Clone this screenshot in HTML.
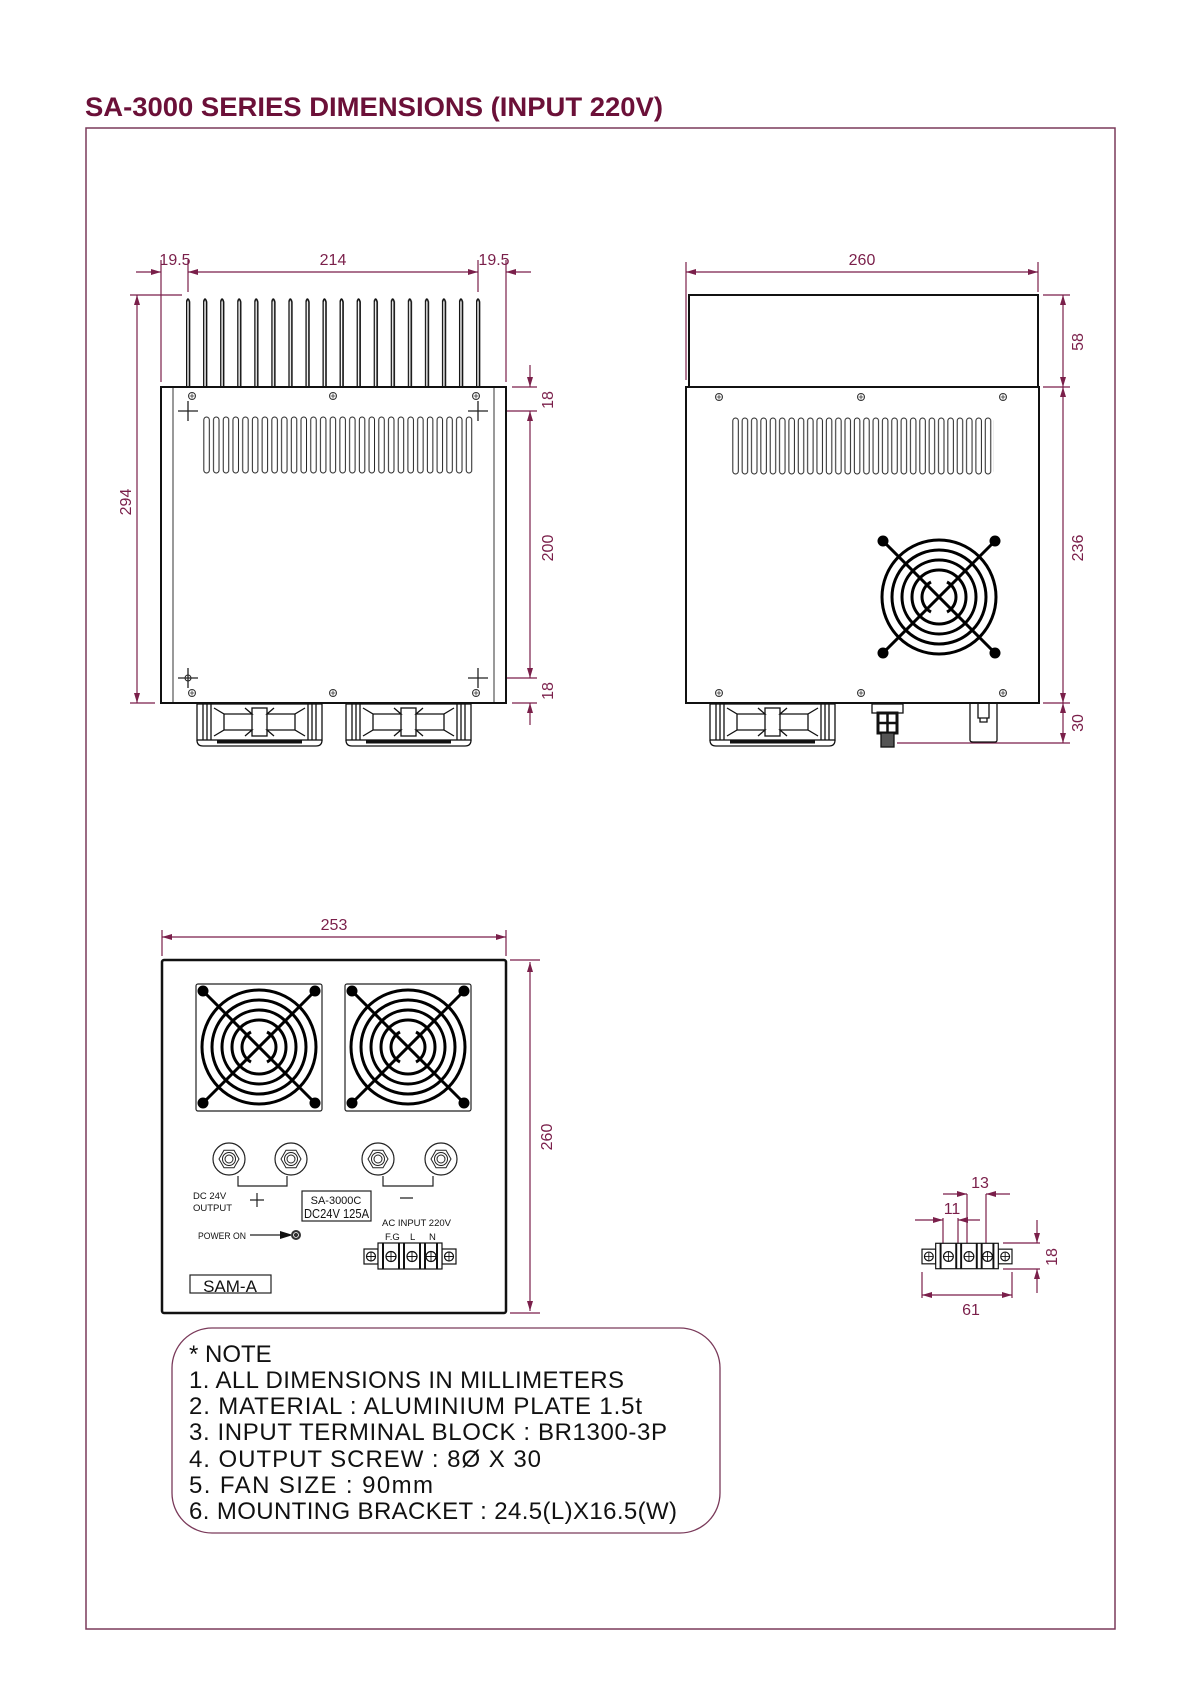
<!DOCTYPE html>
<html><head><meta charset="utf-8"><style>
html,body{margin:0;padding:0;background:#fff;}
svg{display:block;}
text{font-family:"Liberation Sans",sans-serif;}
</style></head><body>
<svg width="1200" height="1698" viewBox="0 0 1200 1698" xmlns="http://www.w3.org/2000/svg">
<defs>
<marker id="ar" viewBox="0 0 10 6" refX="10" refY="3" markerWidth="10" markerHeight="6" orient="auto-start-reverse" markerUnits="userSpaceOnUse">
<path d="M0,0 L10,3 L0,6 z" fill="#7a1f4a"/></marker>
<pattern id="vent" x="202" y="0" width="9.72" height="2000" patternUnits="userSpaceOnUse">
<rect x="1.8" y="417" width="5.5" height="56" rx="2.75" fill="none" stroke="#222" stroke-width="1"/></pattern>
<pattern id="vent2" x="731" y="0" width="9.35" height="2000" patternUnits="userSpaceOnUse">
<rect x="1.8" y="418" width="5.5" height="56" rx="2.75" fill="none" stroke="#222" stroke-width="1"/></pattern>
<pattern id="fin" x="186" y="0" width="17.06" height="2000" patternUnits="userSpaceOnUse">
<path d="M0.5,388 L0.5,302 Q2,296 3.5,302 L3.5,388" fill="#fff" stroke="#111" stroke-width="1.6"/></pattern>
<symbol id="grill" viewBox="-63 -63 126 126" overflow="visible">
<g fill="none" stroke="#000" stroke-width="3">
<circle r="57"/><circle r="47"/><circle r="37"/><circle r="27"/>
<path d="M-8,-15 A17,17 0 0 0 -8,15 M8,-15 A17,17 0 0 1 8,15"/>
<line x1="-55" y1="-55" x2="55" y2="55"/><line x1="55" y1="-55" x2="-55" y2="55"/>
</g>
<g fill="#000"><circle cx="-56" cy="-56" r="5.5"/><circle cx="56" cy="-56" r="5.5"/><circle cx="-56" cy="56" r="5.5"/><circle cx="56" cy="56" r="5.5"/></g>
</symbol>
<symbol id="screw" viewBox="-5 -5 10 10" overflow="visible">
<circle r="3.5" fill="#fff" stroke="#333" stroke-width="1"/><path d="M-2.5,0 H2.5 M0,-2.5 V2.5" stroke="#333" stroke-width="0.8"/>
</symbol>
<symbol id="bfan" viewBox="0 0 126 44" overflow="visible">
<g fill="none" stroke="#111" stroke-width="1.3">
<rect x="0" y="0" width="125" height="36"/>
<path d="M6,0 V36 M10,0 V36 M14,0 V36 M111,0 V36 M115,0 V36 M119,0 V36"/>
<path d="M17,4 L27,10 V26 L17,32 M108,4 L98,10 V26 L108,32"/>
<path d="M27,10 H55 L48,4 M27,26 H55 L48,32 M98,10 H70 L77,4 M98,26 H70 L77,32"/>
<rect x="55" y="4" width="15" height="28"/>
<path d="M0,36 Q0,42 6,42 H119 Q125,42 125,36"/>
<path d="M20,38 H105" stroke-width="3"/>
</g>
</symbol>
<symbol id="tb" viewBox="0 0 92 26" overflow="visible">
<g stroke="#111" fill="#fff" stroke-width="1.2">
<rect x="0" y="6" width="14" height="15"/><rect x="78" y="6" width="14" height="15"/>
<rect x="14" y="0" width="64" height="26"/>
<path d="M19,0 V26 M35,0 V26 M40,0 V26 M56,0 V26 M61,0 V26 M73,0 V26" stroke-width="2"/>
<circle cx="7" cy="13.5" r="4.5"/><circle cx="85" cy="13.5" r="4.5"/>
<circle cx="27" cy="13.5" r="5"/><circle cx="48" cy="13.5" r="5"/><circle cx="67" cy="13.5" r="5"/>
<path d="M3,13.5 H11 M7,9.5 V17.5 M81,13.5 H89 M85,9.5 V17.5 M22,13.5 H32 M27,8.5 V18.5 M43,13.5 H53 M48,8.5 V18.5 M62,13.5 H72 M67,8.5 V18.5" stroke-width="0.9"/>
</g>
</symbol>
<symbol id="term" viewBox="-17 -17 34 34" overflow="visible">
<circle r="16" fill="#fff" stroke="#222" stroke-width="1.2"/>
<polygon points="10,0 5,8.7 -5,8.7 -10,0 -5,-8.7 5,-8.7" fill="none" stroke="#222" stroke-width="1"/>
<circle r="6.5" fill="none" stroke="#222" stroke-width="1"/><circle r="4" fill="none" stroke="#222" stroke-width="1"/>
</symbol>
</defs>

<text x="85" y="116" font-size="27" fill="#6b1038" font-weight="bold" textLength="578" lengthAdjust="spacingAndGlyphs">SA-3000  SERIES  DIMENSIONS  (INPUT  220V)</text>
<rect x="86" y="128" width="1029" height="1501" fill="none" stroke="#7a3a5a" stroke-width="1.5"/>

<g stroke="#7a1f4a" stroke-width="1.2" fill="none">
<line x1="161" y1="260" x2="161" y2="382"/><line x1="188" y1="260" x2="188" y2="292"/>
<line x1="478" y1="260" x2="478" y2="292"/><line x1="506" y1="260" x2="506" y2="382"/>
<line x1="136" y1="272" x2="161" y2="272" marker-end="url(#ar)"/>
<line x1="188" y1="272" x2="478" y2="272" marker-start="url(#ar)" marker-end="url(#ar)"/>
<line x1="531" y1="272" x2="506" y2="272" marker-end="url(#ar)"/>
<line x1="130" y1="295" x2="182" y2="295"/><line x1="130" y1="703" x2="155" y2="703"/>
<line x1="137" y1="295" x2="137" y2="703" marker-start="url(#ar)" marker-end="url(#ar)"/>
<line x1="512" y1="387" x2="537" y2="387"/><line x1="496" y1="411" x2="537" y2="411"/>
<line x1="496" y1="678" x2="537" y2="678"/><line x1="512" y1="703" x2="537" y2="703"/>
<line x1="530" y1="365" x2="530" y2="387" marker-end="url(#ar)"/>
<line x1="530" y1="411" x2="530" y2="678" marker-start="url(#ar)" marker-end="url(#ar)"/>
<line x1="530" y1="725" x2="530" y2="703" marker-end="url(#ar)"/>
<path d="M325,612 H436 L476,674"/>
<line x1="686" y1="262" x2="686" y2="380"/><line x1="1038" y1="262" x2="1038" y2="292"/>
<line x1="686" y1="272" x2="1038" y2="272" marker-start="url(#ar)" marker-end="url(#ar)"/>
<line x1="1043" y1="295" x2="1070" y2="295"/><line x1="1043" y1="387" x2="1070" y2="387"/>
<line x1="1043" y1="703" x2="1070" y2="703"/><line x1="897" y1="743" x2="1070" y2="743"/>
<line x1="1063" y1="295" x2="1063" y2="387" marker-start="url(#ar)" marker-end="url(#ar)"/>
<line x1="1063" y1="387" x2="1063" y2="703" marker-start="url(#ar)" marker-end="url(#ar)"/>
<line x1="1063" y1="703" x2="1063" y2="743" marker-start="url(#ar)" marker-end="url(#ar)"/>
<line x1="162" y1="930" x2="162" y2="956"/><line x1="506" y1="930" x2="506" y2="956"/>
<line x1="162" y1="937" x2="506" y2="937" marker-start="url(#ar)" marker-end="url(#ar)"/>
<line x1="510" y1="960" x2="540" y2="960"/><line x1="510" y1="1313" x2="540" y2="1313"/>
<line x1="530" y1="962" x2="530" y2="1311" marker-start="url(#ar)" marker-end="url(#ar)"/>
<line x1="943" y1="1218" x2="943" y2="1248"/><line x1="958" y1="1218" x2="958" y2="1248"/>
<line x1="967" y1="1194" x2="967" y2="1250"/><line x1="986" y1="1194" x2="986" y2="1250"/>
<line x1="915" y1="1220" x2="943" y2="1220" marker-end="url(#ar)"/>
<line x1="980" y1="1220" x2="958" y2="1220" marker-end="url(#ar)"/>
<line x1="943" y1="1194" x2="967" y2="1194" marker-end="url(#ar)"/>
<line x1="1010" y1="1194" x2="986" y2="1194" marker-end="url(#ar)"/>
<line x1="1003" y1="1243" x2="1040" y2="1243"/><line x1="1003" y1="1269" x2="1040" y2="1269"/>
<line x1="1037" y1="1220" x2="1037" y2="1243" marker-end="url(#ar)"/>
<line x1="1037" y1="1293" x2="1037" y2="1269" marker-end="url(#ar)"/>
<line x1="922" y1="1272" x2="922" y2="1298"/><line x1="1012" y1="1272" x2="1012" y2="1298"/>
<line x1="922" y1="1295" x2="1012" y2="1295" marker-start="url(#ar)" marker-end="url(#ar)"/>
</g>
<g fill="#7a1f4a" font-size="16">
<text x="175" y="265" text-anchor="middle">19.5</text>
<text x="333" y="265" text-anchor="middle">214</text>
<text x="494" y="265" text-anchor="middle">19.5</text>
<text transform="translate(131,502) rotate(-90)" text-anchor="middle">294</text>
<text transform="translate(553,400) rotate(-90)" text-anchor="middle">18</text>
<text transform="translate(553,548) rotate(-90)" text-anchor="middle">200</text>
<text transform="translate(553,691) rotate(-90)" text-anchor="middle">18</text>
<text x="375" y="595" text-anchor="middle">Mounting Hole</text>
<text x="377" y="617" text-anchor="middle">(8-M4 Taps)</text>
<text x="862" y="265" text-anchor="middle">260</text>
<text transform="translate(1083,342) rotate(-90)" text-anchor="middle">58</text>
<text transform="translate(1083,548) rotate(-90)" text-anchor="middle">236</text>
<text transform="translate(1083,723) rotate(-90)" text-anchor="middle">30</text>
<text x="334" y="930" text-anchor="middle">253</text>
<text transform="translate(552,1137) rotate(-90)" text-anchor="middle">260</text>
<text x="980" y="1188" text-anchor="middle">13</text>
<text x="952" y="1214" text-anchor="middle">11</text>
<text transform="translate(1057,1257) rotate(-90)" text-anchor="middle">18</text>
<text x="971" y="1315" text-anchor="middle">61</text>
</g>

<rect x="180" y="290" width="305" height="98" fill="url(#fin)"/>
<rect x="161" y="387" width="345" height="316" fill="#fff" stroke="#111" stroke-width="2"/>
<line x1="173" y1="388" x2="173" y2="702" stroke="#333" stroke-width="1"/>
<line x1="494" y1="388" x2="494" y2="702" stroke="#333" stroke-width="1"/>
<rect x="202" y="410" width="273" height="70" fill="url(#vent)"/>
<g><use href="#screw" x="187" y="391" width="10" height="10"/><use href="#screw" x="328" y="391" width="10" height="10"/><use href="#screw" x="471" y="391" width="10" height="10"/>
<use href="#screw" x="187" y="688" width="10" height="10"/><use href="#screw" x="328" y="688" width="10" height="10"/><use href="#screw" x="471" y="688" width="10" height="10"/></g>
<g stroke="#222" stroke-width="1.3"><path d="M178,411 H198 M188,401 V421 M468,411 H488 M478,401 V421 M178,678 H198 M188,668 V688 M468,678 H488 M478,668 V688"/></g>
<circle cx="188" cy="678" r="3" fill="none" stroke="#222"/>
<use href="#bfan" x="197" y="704" width="126" height="44"/>
<use href="#bfan" x="346" y="704" width="126" height="44"/>

<rect x="689" y="295" width="349" height="92" fill="#fff" stroke="#111" stroke-width="2"/>
<rect x="686" y="387" width="353" height="316" fill="#fff" stroke="#111" stroke-width="2"/>
<rect x="731" y="410" width="263" height="70" fill="url(#vent2)"/>
<g><use href="#screw" x="714" y="392" width="10" height="10"/><use href="#screw" x="856" y="392" width="10" height="10"/><use href="#screw" x="998" y="392" width="10" height="10"/>
<use href="#screw" x="714" y="688" width="10" height="10"/><use href="#screw" x="856" y="688" width="10" height="10"/><use href="#screw" x="998" y="688" width="10" height="10"/></g>
<use href="#grill" x="876" y="534" width="126" height="126"/>
<use href="#bfan" x="710" y="704" width="126" height="44"/>
<g stroke="#111" stroke-width="1.3" fill="#fff">
<rect x="872" y="704" width="31" height="9"/>
<rect x="878" y="713" width="19" height="20" stroke-width="3"/>
<line x1="887.5" y1="713" x2="887.5" y2="733" stroke-width="2.5"/><line x1="878" y1="723" x2="897" y2="723" stroke-width="2.5"/>
<rect x="881" y="733" width="13" height="14" fill="#555"/>
<path d="M970,704 V740 Q970,742 973,742 H995 Q997,742 997,740 V704"/>
<path d="M978,704 V718 H989 V704 M980,718 V722 H987 V718"/>
</g>

<rect x="162" y="960" width="344" height="353" rx="2" fill="#fff" stroke="#111" stroke-width="2.5"/>
<rect x="196" y="984" width="126" height="127" rx="2" fill="#fff" stroke="#222" stroke-width="1.2"/>
<rect x="345" y="984" width="126" height="127" rx="2" fill="#fff" stroke="#222" stroke-width="1.2"/>
<use href="#grill" x="196" y="984" width="126" height="126"/>
<use href="#grill" x="345" y="984" width="126" height="126"/>
<use href="#term" x="212" y="1142" width="34" height="34"/>
<use href="#term" x="274" y="1142" width="34" height="34"/>
<use href="#term" x="361" y="1142" width="34" height="34"/>
<use href="#term" x="424" y="1142" width="34" height="34"/>
<g stroke="#222" stroke-width="1.2" fill="none">
<path d="M238,1176 V1186 H287 V1176 M383,1176 V1186 H433 V1176"/>
<path d="M257,1193 V1207 M250,1200 H264 M400,1198 H413"/>
<rect x="302" y="1191" width="69" height="30" fill="#fff"/>
<rect x="190" y="1275" width="81" height="18"/>
<line x1="250" y1="1235" x2="280" y2="1235"/>
</g>
<path d="M280,1231 L293,1235 L280,1239 z" fill="#111"/>
<circle cx="296" cy="1235" r="5" fill="#333"/><circle cx="296" cy="1235" r="2.5" fill="none" stroke="#fff" stroke-width="0.8"/>
<g fill="#111" font-size="9.5">
<text x="193" y="1199">DC 24V</text><text x="193" y="1211">OUTPUT</text>
<text x="198" y="1239" textLength="48" lengthAdjust="spacingAndGlyphs">POWER ON</text>
<text x="382" y="1226">AC INPUT 220V</text>
<text x="385" y="1240">F.G</text><text x="410" y="1240">L</text><text x="429" y="1240">N</text>
</g>
<text x="336" y="1204" text-anchor="middle" font-size="11" fill="#111">SA-3000C</text>
<text x="304" y="1218" font-size="13" fill="#111" textLength="65" lengthAdjust="spacingAndGlyphs">DC24V 125A</text>
<text x="230" y="1292" text-anchor="middle" font-size="17" fill="#111">SAM-A</text>
<use href="#tb" x="364" y="1243" width="92" height="26"/>

<use href="#tb" x="922" y="1243" width="90" height="26"/>

<rect x="172" y="1328" width="548" height="205" rx="40" fill="none" stroke="#7a3a5a" stroke-width="1.3"/>
<g fill="#111" font-size="24">
<text x="189" y="1362">*  NOTE</text>
<text x="189" y="1388" textLength="435" lengthAdjust="spacing">1.  ALL  DIMENSIONS  IN  MILLIMETERS</text>
<text x="189" y="1414" textLength="453" lengthAdjust="spacing">2.  MATERIAL  :  ALUMINIUM  PLATE  1.5t</text>
<text x="189" y="1440" textLength="478" lengthAdjust="spacing">3.  INPUT  TERMINAL  BLOCK  :  BR1300-3P</text>
<text x="189" y="1467" textLength="352" lengthAdjust="spacing">4.  OUTPUT  SCREW  :  8Ø  X  30</text>
<text x="189" y="1493" textLength="244" lengthAdjust="spacing">5.  FAN  SIZE  :  90mm</text>
<text x="189" y="1519" textLength="488" lengthAdjust="spacing">6.  MOUNTING  BRACKET  :  24.5(L)X16.5(W)</text>
</g>
</svg>
</body></html>
